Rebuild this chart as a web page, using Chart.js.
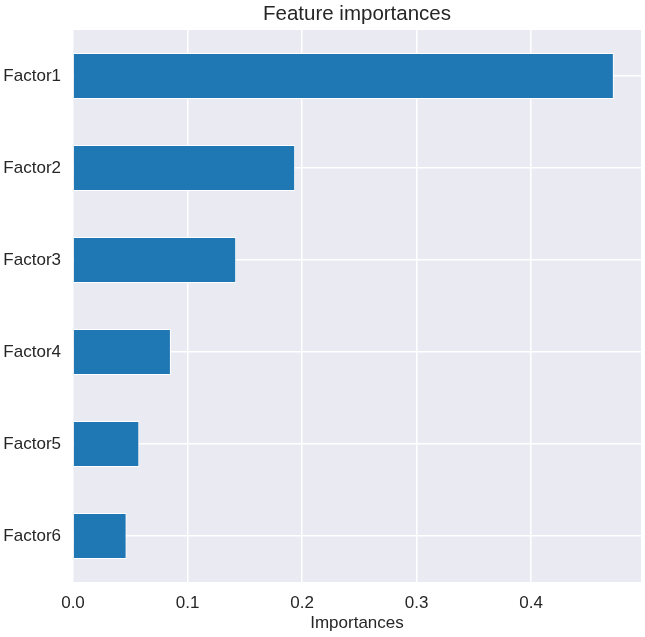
<!DOCTYPE html>
<html>
<head>
<meta charset="utf-8">
<script src="https://cdn.jsdelivr.net/npm/chart.js@4/dist/chart.umd.min.js"></script>
<style>
  html, body { margin: 0; padding: 0; background: #ffffff; }
  #wrap { width: 645px; height: 637px; }
</style>
</head>
<body>
<div id="wrap"><canvas id="c" width="645" height="637"></canvas></div>
<script>
const categories = ["Factor1", "Factor2", "Factor3", "Factor4", "Factor5", "Factor6"];
const importances = [0.4723, 0.194, 0.1425, 0.0855, 0.0579, 0.0468];
const xTicks = [0.0, 0.1, 0.2, 0.3, 0.4];
const chartTitle = "Feature importances";
const xLabel = "Importances";

const FONT = "'Liberation Sans', Arial, sans-serif";
const TEXT = "#262626";

const bgPlugin = {
  id: 'plotBg',
  beforeDraw(chart) {
    const { ctx, chartArea: a } = chart;
    ctx.save();
    ctx.fillStyle = '#EAEAF2';
    ctx.fillRect(a.left, a.top, a.right - a.left, a.bottom - a.top);
    ctx.restore();
  },
  afterDraw(chart) {
    const { ctx, chartArea: a } = chart;
    ctx.save();
    ctx.fillStyle = TEXT;
    ctx.font = "20.5px " + FONT;
    ctx.textAlign = 'center';
    ctx.textBaseline = 'middle';
    ctx.fillText(chartTitle, (a.left + a.right) / 2, 14);
    ctx.restore();
  }
};

new Chart(document.getElementById('c'), {
  type: 'bar',
  data: {
    labels: categories,
    datasets: [{
      data: importances,
      backgroundColor: '#1f77b4',
      borderColor: '#ffffff',
      borderWidth: 1,
      borderSkipped: 'start',
      categoryPercentage: 0.5,
      barPercentage: 1.0
    }]
  },
  options: {
    indexAxis: 'y',
    responsive: false,
    animation: false,
    layout: { padding: { left: 0, right: 4, top: 30, bottom: 0 } },
    plugins: {
      legend: { display: false },
      tooltip: { enabled: false },
      title: { display: false }
    },
    scales: {
      x: {
        type: 'linear',
        min: 0,
        max: 0.496,
        afterBuildTicks(scale) {
          scale.ticks = xTicks.map(v => ({ value: v }));
        },
        afterFit(scale) { scale.height = 55; },
        border: { display: false },
        grid: { color: '#ffffff', lineWidth: 1.5, drawTicks: false },
        ticks: {
          color: TEXT,
          padding: 11,
          font: { family: FONT, size: 17 },
          callback: v => Number(v).toFixed(1)
        },
        title: {
          display: true,
          text: xLabel,
          color: TEXT,
          font: { family: FONT, size: 17 },
          padding: { top: 0, bottom: 3 }
        }
      },
      y: {
        type: 'category',
        offset: true,
        afterFit(scale) { scale.width = 73; },
        border: { display: false },
        grid: { color: '#ffffff', lineWidth: 1.5, drawTicks: false, offset: false },
        ticks: {
          color: TEXT,
          padding: 12,
          font: { family: FONT, size: 17 }
        }
      }
    }
  },
  plugins: [bgPlugin]
});
</script>
</body>
</html>
